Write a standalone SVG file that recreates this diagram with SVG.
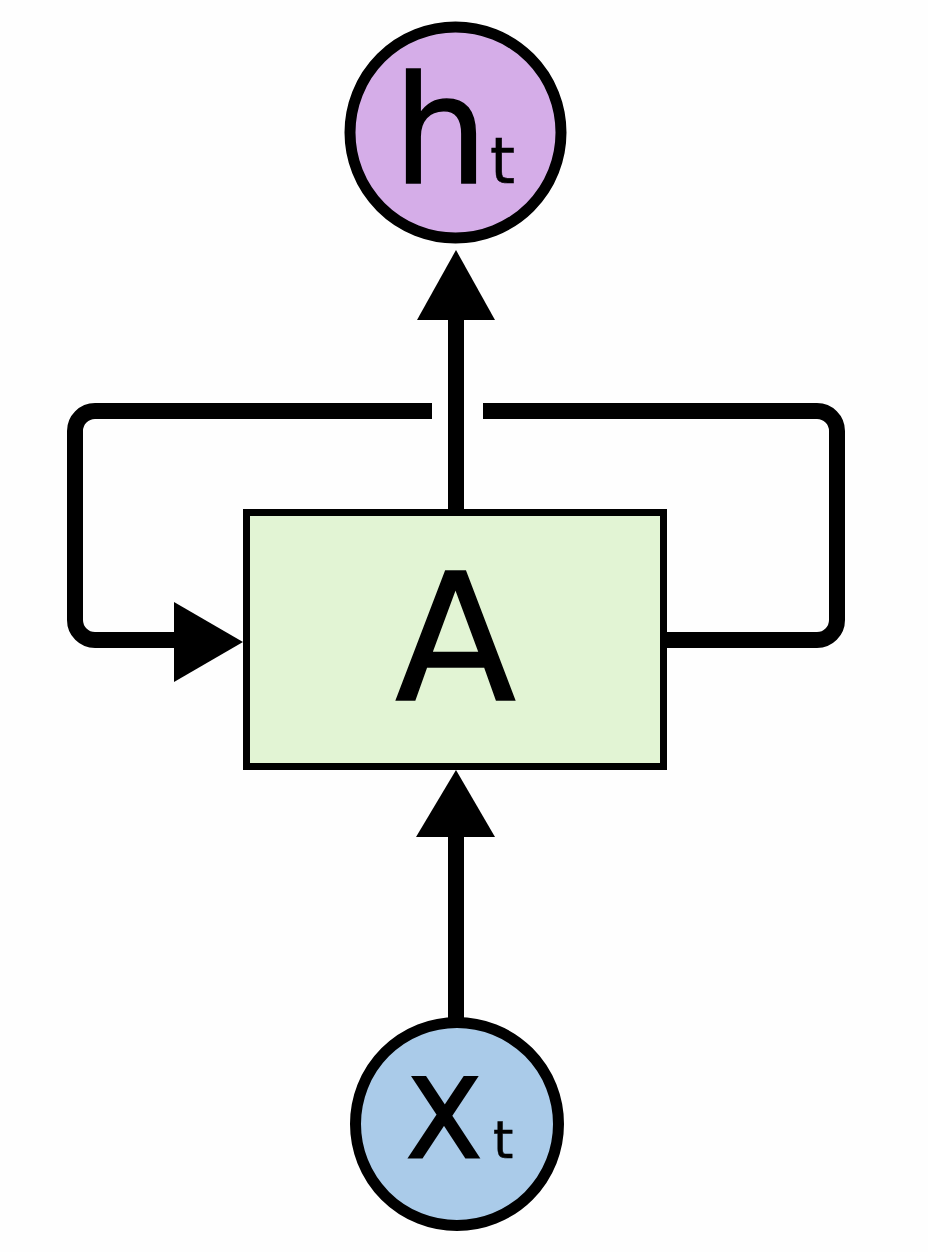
<svg xmlns="http://www.w3.org/2000/svg" width="928" height="1252" viewBox="0 0 928 1252">
<style>
.ln{fill:none;stroke:#000;stroke-width:16;stroke-linejoin:round}
.ah{fill:#000}
.lbl{font-family:"DejaVu Sans",sans-serif;fill:#000}
</style>
<rect width="928" height="1252" fill="#fefefe"/>
<g id="connectors">
  <path class="ln" d="M432 411 H95 A20 20 0 0 0 75 431 V620 A20 20 0 0 0 95 640 H180"/>
  <polygon class="ah" points="174,602 243,642 174,682"/>
  <path class="ln" d="M483 411 H817 A20 20 0 0 1 837 431 V620 A20 20 0 0 1 817 640 H667"/>
  <line class="ln" x1="456" y1="509" x2="456" y2="312"/>
  <polygon class="ah" points="417,320 456,250 495,320"/>
  <line class="ln" x1="456" y1="1018" x2="456" y2="830"/>
  <polygon class="ah" points="416,837 456,770 495,837"/>
</g>
<g id="node-h">
  <circle cx="455.5" cy="132.5" r="105.5" fill="#d5ade8" stroke="#000" stroke-width="11"/>
  <text class="lbl" x="393" y="183" font-size="150" stroke="#000" stroke-width="1.5">h</text>
  <text class="lbl" x="490" y="183" font-size="64" stroke="#000" stroke-width="0.5">t</text>
</g>
<g id="node-A">
  <rect x="246.5" y="512.5" width="417" height="254" fill="#e2f4d4" stroke="#000" stroke-width="7"/>
  <text class="lbl" x="455.5" y="700" font-size="177" text-anchor="middle" stroke="#000" stroke-width="1.5">A</text>
</g>
<g id="node-x">
  <circle cx="457" cy="1124" r="101.5" fill="#aacbe9" stroke="#000" stroke-width="11"/>
  <text class="lbl" x="407" y="1157" font-size="108" stroke="#000" stroke-width="3">X</text>
  <text class="lbl" x="493" y="1158" font-size="52" stroke="#000" stroke-width="0.5">t</text>
</g>
</svg>
